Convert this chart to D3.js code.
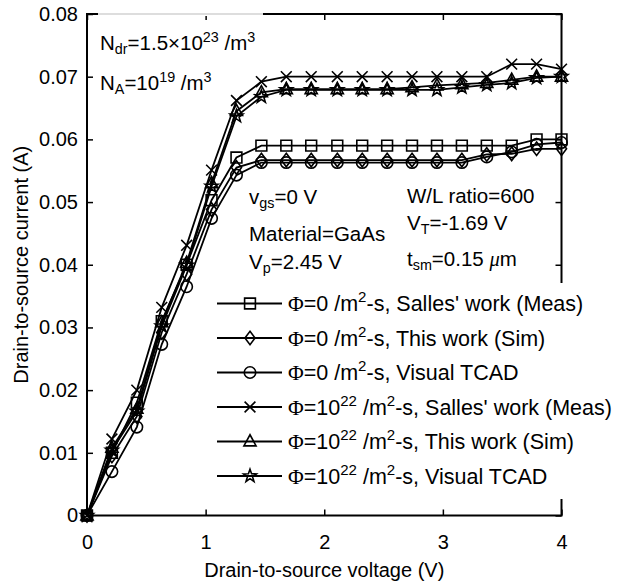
<!DOCTYPE html>
<html><head><meta charset="utf-8">
<script src="https://cdn.jsdelivr.net/npm/d3@7"></script>
<style>
html,body{margin:0;padding:0;background:#fff;}
svg text{font-family:"Liberation Sans",Arial,Helvetica,sans-serif;fill:#000;}
</style></head>
<body><svg id="c" width="617" height="583"></svg>
<script>
// ---- data ----
const voltage = [0, 0.21, 0.42, 0.63, 0.84, 1.05, 1.26, 1.47, 1.68, 1.89, 2.11, 2.32, 2.53, 2.74, 2.95, 3.16, 3.37, 3.58, 3.79, 4.00];
const sallesFlux0 = [0, 0.0100, 0.0180, 0.0310, 0.0400, 0.0503, 0.0571, 0.0590, 0.0590, 0.0590, 0.0590, 0.0590, 0.0590, 0.0590, 0.0590, 0.0590, 0.0590, 0.0590, 0.0600, 0.0600];
const simFlux0    = [0, 0.0095, 0.0158, 0.0292, 0.0385, 0.0488, 0.0555, 0.0567, 0.0567, 0.0567, 0.0567, 0.0567, 0.0567, 0.0567, 0.0567, 0.0567, 0.0576, 0.0577, 0.0585, 0.0585];
const tcadFlux0   = [0, 0.0070, 0.0141, 0.0273, 0.0365, 0.0474, 0.0543, 0.0563, 0.0563, 0.0563, 0.0563, 0.0563, 0.0563, 0.0563, 0.0563, 0.0563, 0.0572, 0.0580, 0.0592, 0.0595];
const sallesFlux22 = [0, 0.0122, 0.0200, 0.0332, 0.0431, 0.0551, 0.0662, 0.0692, 0.0700, 0.0700, 0.0700, 0.0700, 0.0700, 0.0700, 0.0700, 0.0700, 0.0700, 0.0720, 0.0720, 0.0712];
const simFlux22    = [0, 0.0108, 0.0170, 0.0308, 0.0403, 0.0530, 0.0645, 0.0675, 0.0680, 0.0680, 0.0680, 0.0680, 0.0680, 0.0683, 0.0686, 0.0688, 0.0690, 0.0695, 0.0700, 0.0700];
const tcadFlux22   = [0, 0.0104, 0.0166, 0.0302, 0.0399, 0.0525, 0.0637, 0.0668, 0.0679, 0.0679, 0.0679, 0.0679, 0.0679, 0.0679, 0.0679, 0.0683, 0.0687, 0.0690, 0.0698, 0.0700];
const seriesMarkers = ["square", "diamond", "circle", "x", "triangle", "star"];
const legendFlux = ["0", "0", "0", "22", "22", "22"];
const legendSource = ["Salles' work (Meas)", "This work (Sim)", "Visual TCAD", "Salles' work (Meas)", "This work (Sim)", "Visual TCAD"];
const xTicks = [0, 1, 2, 3, 4];
const yTicks = [0, 0.01, 0.02, 0.03, 0.04, 0.05, 0.06, 0.07, 0.08];

const seriesValues = [sallesFlux0, simFlux0, tcadFlux0, sallesFlux22, simFlux22, tcadFlux22];

// ---- layout ----
const svg = d3.select("#c");
const L = 87, R = 561.5, T = 14, B = 515.5;
const x = d3.scaleLinear().domain([0, 4]).range([L, R]);
const y = d3.scaleLinear().domain([0, 0.08]).range([B, T]);

function markerPath(type, s) {
  const h = s / 2;
  switch (type) {
    case "square": { const a = h * 0.8; return `M${-a},${-a}H${a}V${a}H${-a}Z`; }
    case "diamond": return `M0,${-h}L${h*0.75},0L0,${h}L${-h*0.75},0Z`;
    case "circle": { const r = h * 0.85; return `M${r},0A${r},${r} 0 1,1 ${-r},0A${r},${r} 0 1,1 ${r},0Z`; }
    case "x": { const a = h * 0.8; return `M${-a},${-a}L${a},${a}M${a},${-a}L${-a},${a}`; }
    case "triangle": return `M0,${-h}L${h*0.9},${h*0.65}L${-h*0.9},${h*0.65}Z`;
    case "star": {
      const pts = [];
      for (let i = 0; i < 10; i++) {
        const r = i % 2 === 0 ? h : h * 0.4;
        const ang = -Math.PI / 2 + i * Math.PI / 5;
        pts.push([r * Math.cos(ang), r * Math.sin(ang)]);
      }
      return "M" + pts.map(p => p[0].toFixed(2) + "," + p[1].toFixed(2)).join("L") + "Z";
    }
  }
}

// axes box
svg.append("rect").attr("x", L).attr("y", T).attr("width", R - L).attr("height", B - T)
  .attr("fill", "none").attr("stroke", "#000").attr("stroke-width", 2);

const fmtY = d => d === 0 ? "0" : d3.format(".2f")(d);
const gx = svg.append("g").attr("transform", `translate(0,${B})`)
  .call(d3.axisBottom(x).tickValues(xTicks).tickSizeInner(-6).tickSizeOuter(0).tickPadding(19).tickFormat(d3.format("d")));
const gxTop = svg.append("g").attr("transform", `translate(0,${T})`)
  .call(d3.axisTop(x).tickValues(xTicks).tickSizeInner(-6).tickSizeOuter(0).tickFormat(""));
const gy = svg.append("g").attr("transform", `translate(${L},0)`)
  .call(d3.axisLeft(y).tickValues(yTicks).tickSizeInner(-6).tickSizeOuter(0).tickPadding(9).tickFormat(fmtY));
const gyR = svg.append("g").attr("transform", `translate(${R},0)`)
  .call(d3.axisRight(y).tickValues(yTicks).tickSizeInner(-6).tickSizeOuter(0).tickFormat(""));
[gx, gxTop, gy, gyR].forEach(g => {
  g.select(".domain").remove();
  g.selectAll(".tick line").attr("stroke", "#000").attr("stroke-width", 1.5);
  g.selectAll("text").attr("font-size", 20).attr("font-family", "Liberation Sans, Arial, sans-serif").attr("fill", "#000");
});

// axis titles
svg.append("text").attr("x", (L + R) / 2).attr("y", 577).attr("text-anchor", "middle")
  .attr("font-size", 20).text("Drain-to-source voltage (V)");
svg.append("text").attr("transform", `translate(28,${(T + B) / 2}) rotate(-90)`).attr("text-anchor", "middle")
  .attr("font-size", 20).text("Drain-to-source current (A)");

// series
const line = d3.line().x((d, i) => x(voltage[i])).y(d => y(d));
seriesValues.forEach((vals, k) => {
  svg.append("path").attr("d", line(vals)).attr("fill", "none").attr("stroke", "#000").attr("stroke-width", 1.8);
});
seriesValues.forEach((vals, k) => {
  svg.append("g").selectAll("path").data(vals).join("path")
    .attr("transform", (d, i) => `translate(${x(voltage[i])},${y(d)})`)
    .attr("d", markerPath(seriesMarkers[k], 13.5))
    .attr("fill", "none").attr("stroke", "#000").attr("stroke-width", 1.6);
});

// annotation text helper (with sub/sup)
function rich(xp, yp, parts, size) {
  const fs = size || 20.5;
  const t = svg.append("text").attr("x", xp).attr("y", yp).attr("font-size", fs);
  parts.forEach(p => {
    const s = t.append("tspan").text(p.t);
    if (p.sub) s.attr("font-size", fs * 0.7).attr("baseline-shift", "-30%");
    if (p.sup) s.attr("font-size", fs * 0.7).attr("baseline-shift", "60%");
    if (p.font) s.attr("font-family", p.font);
    if (p.italic) s.attr("font-style", "italic");
  });
  return t;
}

// top-left annotations
svg.append("rect").attr("x", 98).attr("y", 13).attr("width", 165).attr("height", 3).attr("fill", "#fff");
svg.append("line").attr("x1", 98).attr("x2", 263).attr("y1", 14).attr("y2", 14).attr("stroke", "#bbb").attr("stroke-width", 1);
rich(100, 50, [{t: "N"}, {t: "dr", sub: 1}, {t: "=1.5×10"}, {t: "23", sup: 1}, {t: " /m"}, {t: "3", sup: 1}]);
rich(100, 90, [{t: "N"}, {t: "A", sub: 1}, {t: "=10"}, {t: "19", sup: 1}, {t: " /m"}, {t: "3", sup: 1}]);

rich(249, 204, [{t: "v"}, {t: "gs", sub: 1}, {t: "=0 V"}]);
rich(249, 241, [{t: "Material=GaAs"}]);
rich(249, 269, [{t: "V"}, {t: "p", sub: 1}, {t: "=2.45 V"}]);
rich(407, 203, [{t: "W/L ratio=600"}]);
rich(407, 230, [{t: "V"}, {t: "T", sub: 1}, {t: "=-1.69 V"}]);
rich(407, 266, [{t: "t"}, {t: "sm", sub: 1}, {t: "=0.15 "}, {t: "μ", font: "Liberation Serif, Times New Roman, serif", italic: 1}, {t: "m"}]);

// legend
svg.append("rect").attr("x", 214).attr("y", 283).attr("width", 400).attr("height", 216).attr("fill", "#fff");
const legY0 = 303.5, legDy = 34.5;
seriesMarkers.forEach((m, k) => {
  const ly = legY0 + k * legDy;
  svg.append("line").attr("x1", 217).attr("x2", 282).attr("y1", ly).attr("y2", ly).attr("stroke", "#000").attr("stroke-width", 1.8);
  svg.append("path").attr("transform", `translate(250,${ly})`).attr("d", markerPath(m, 13.5))
    .attr("fill", "none").attr("stroke", "#000").attr("stroke-width", 1.6);
  const parts = [{t: "Φ", font: "Liberation Serif, Times New Roman, serif"}];
  if (legendFlux[k] === "0") parts.push({t: "=0 /m"});
  else { parts.push({t: "=10"}); parts.push({t: legendFlux[k], sup: 1}); parts.push({t: " /m"}); }
  parts.push({t: "2", sup: 1});
  parts.push({t: "-s, " + legendSource[k]});
  rich(288, ly + 7.5, parts, 21.5);
});
</script></body></html>
